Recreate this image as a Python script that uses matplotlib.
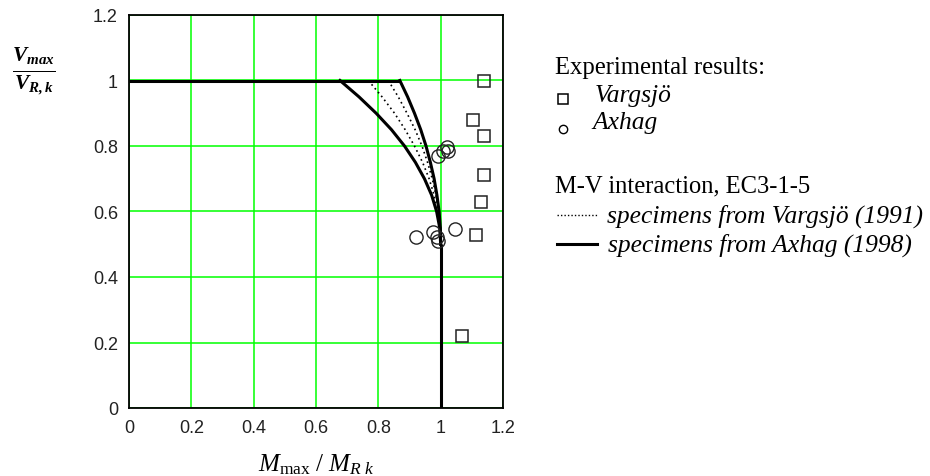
import matplotlib
matplotlib.use("Agg")
import matplotlib.pyplot as plt
from matplotlib.lines import Line2D
from matplotlib.ticker import FuncFormatter, MultipleLocator

plt.rcParams["mathtext.fontset"] = "custom"
plt.rcParams["mathtext.rm"] = "Liberation Serif"
plt.rcParams["mathtext.it"] = "Liberation Serif:italic"
plt.rcParams["mathtext.bf"] = "Liberation Serif:bold"
plt.rcParams["mathtext.bfit"] = "Liberation Serif:italic:bold"

# shear levels V/VRk at which the interaction curves were read
v_levels = [1.0, 0.95, 0.9, 0.85, 0.8, 0.75, 0.7, 0.65, 0.6, 0.55, 0.5]
axhag_outer_m = [0.869, 0.894, 0.916, 0.936, 0.953, 0.967, 0.979, 0.988, 0.995, 0.999, 1.0]
axhag_inner_m = [0.677, 0.738, 0.793, 0.842, 0.884, 0.919, 0.948, 0.971, 0.987, 0.997, 1.0]
vargsjo_a_m = [0.768, 0.812, 0.852, 0.886, 0.916, 0.942, 0.963, 0.979, 0.991, 0.998, 1.0]
vargsjo_b_m = [0.832, 0.864, 0.892, 0.918, 0.940, 0.958, 0.973, 0.985, 0.993, 0.998, 1.0]

plateau_m = [0.0, 0.869]
plateau_v = [1.0, 1.0]
bending_m = [1.0, 1.0]
bending_v = [0.5, 0.0]

# experimental results
vargsjo_m = [1.140, 1.103, 1.140, 1.140, 1.131, 1.112, 1.069]
vargsjo_v = [0.998, 0.880, 0.830, 0.711, 0.630, 0.529, 0.219]
axhag_m = [0.921, 0.976, 0.987, 0.992, 1.046, 0.992, 1.008, 1.019, 1.024]
axhag_v = [0.521, 0.536, 0.521, 0.511, 0.547, 0.770, 0.786, 0.796, 0.786]

W, H = 930, 477


def px(x, y):
    return x / W, 1 - y / H


fig = plt.figure(figsize=(9.3, 4.77), dpi=100)
ax = fig.add_axes([129 / W, 1 - 409 / H, (503 - 129) / W, (409 - 16) / H])

ax.set_xlim(0, 1.2)
ax.set_ylim(0, 1.2)
ax.xaxis.set_major_locator(MultipleLocator(0.2))
ax.yaxis.set_major_locator(MultipleLocator(0.2))
fmt = FuncFormatter(lambda v, p: "%g" % round(v, 1))
ax.xaxis.set_major_formatter(fmt)
ax.yaxis.set_major_formatter(fmt)
ax.grid(True, color="#00ff00", linewidth=1.1)
ax.set_axisbelow(True)
ax.tick_params(length=0, pad=8, labelsize=13, labelcolor="#222222")
for lab in ax.get_xticklabels() + ax.get_yticklabels():
    lab.set_family(["Liberation Sans", "DejaVu Sans"])
for sp in ax.spines.values():
    sp.set_linewidth(1.3)
    sp.set_color("black")

lw = 2.2
ax.plot(plateau_m, plateau_v, color="black", lw=lw, solid_capstyle="butt")
ax.plot(bending_m, bending_v, color="black", lw=lw, solid_capstyle="butt")
ax.plot(axhag_outer_m, v_levels, color="black", lw=lw)
ax.plot(axhag_inner_m, v_levels, color="black", lw=lw)
ax.plot(vargsjo_a_m, v_levels, color="black", lw=1.2, ls=(0, (1, 2)))
ax.plot(vargsjo_b_m, v_levels, color="black", lw=1.2, ls=(0, (1, 2)))

ax.plot(vargsjo_m, vargsjo_v, ls="none", marker="s", ms=8.5, mfc="none",
        mec="#222222", mew=1.1, clip_on=False)
ax.plot(axhag_m, axhag_v, ls="none", marker="o", ms=9.5, mfc="none",
        mec="#222222", mew=1.0, clip_on=False)

ax.set_xlabel(r"$M_{\rm max}\ /\ M_{R\ k}$", fontsize=18, labelpad=11)
fig.text(*px(34, 71), r"$\frac{\mathbfit{V_{max}}}{\mathbfit{V_{R,k}}}$",
         fontsize=22, ha="center", va="center")

# legend drawn by hand on the right
serif = "Liberation Serif"
fs = 17.7
fsi = 18.4
fig.text(*px(555, 68), "Experimental results:", family=serif, fontsize=fs, va="center")
fig.add_artist(Line2D([px(563, 0)[0]], [px(0, 100)[1]], marker="s", ms=7.5, mfc="none",
                      mec="black", mew=1.1, ls="none"))
fig.text(*px(595, 96), "Vargsjö", family=serif, style="italic", fontsize=fsi, va="center")
fig.add_artist(Line2D([px(563, 0)[0]], [px(0, 130)[1]], marker="o", ms=6, mfc="none",
                      mec="black", mew=1.0, ls="none"))
fig.text(*px(592, 123), "Axhag", family=serif, style="italic", fontsize=fsi, va="center")
fig.text(*px(555, 186), "M-V interaction, EC3-1-5", family=serif, fontsize=fs, va="center")
fig.add_artist(Line2D([px(557, 0)[0], px(598, 0)[0]], [px(0, 216)[1]] * 2, color="black",
                      lw=1.0, ls=(0, (1, 1.5))))
fig.text(*px(607, 216), "specimens from Vargsjö (1991)", family=serif, style="italic",
         fontsize=fsi, va="center")
fig.add_artist(Line2D([px(557, 0)[0], px(597, 0)[0]], [px(0, 245)[1]] * 2, color="black",
                      lw=2.2))
fig.text(*px(608, 245), "specimens from Axhag (1998)", family=serif, style="italic",
         fontsize=fsi, va="center")

fig.savefig("out.png", dpi=100)
